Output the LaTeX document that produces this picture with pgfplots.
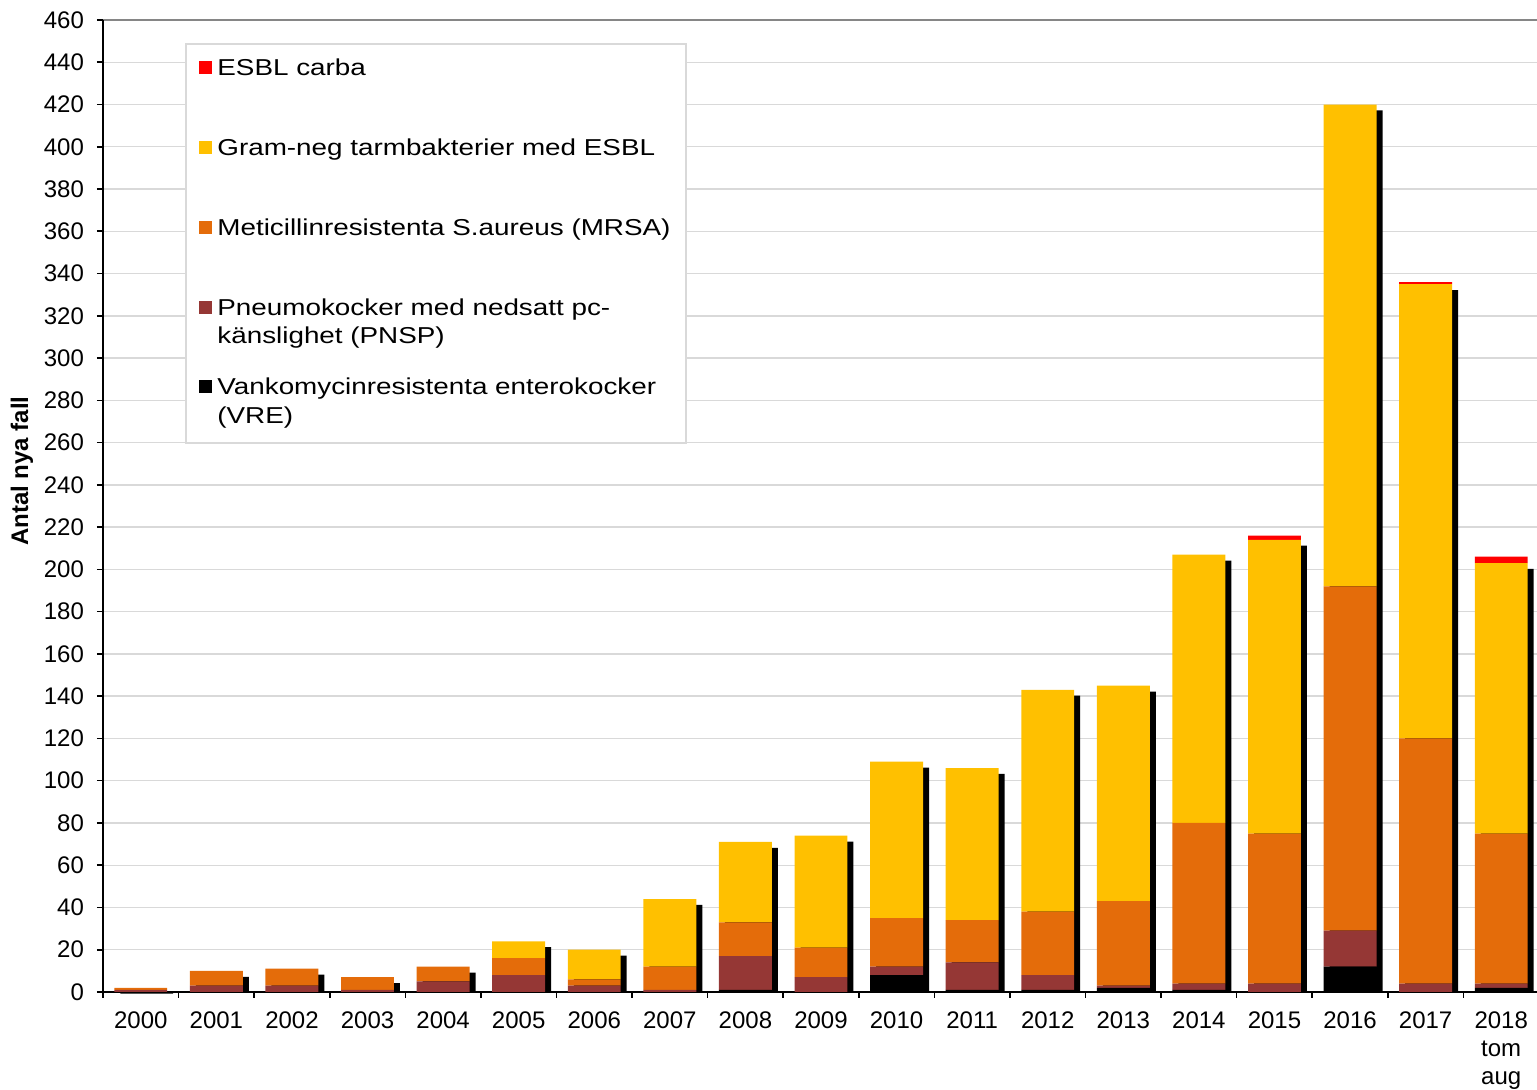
\documentclass[border=0pt]{standalone}
\usepackage{fontspec}
\setmainfont{Liberation Sans}
\usepackage{graphicx}
\usepackage{pgfplots}
\usepackage{pgfplotstable}
\pgfplotsset{compat=1.18}
\definecolor{cPNSP}{HTML}{953735}
\definecolor{cMRSA}{HTML}{E46C0A}
\definecolor{cESBL}{HTML}{FFC000}
\definecolor{cCARB}{HTML}{FF0000}
\definecolor{gridgray}{HTML}{D9D9D9}
\definecolor{topgray}{HTML}{868686}
\definecolor{leggray}{HTML}{D9D9D9}
\newcommand{\ls}[1]{\rule[-#1]{0pt}{#1}}
\newcommand{\sx}[1]{\scalebox{1.21}[1]{#1}}
\newcommand{\twol}[3]{\vtop{\hbox{\sx{#1}}\hbox{\sx{#2}\ls{#3}}}}

\pgfplotstableread{
x v p m e c t
0 0 1 1 0 0 2
1 0 3 7 0 0 10
2 0 3 8 0 0 11
3 0 1 6 0 0 7
4 0 5 7 0 0 12
5 0 8 8 8 0 24
6 0 3 3 14 0 20
7 0 1 11 32 0 44
8 1 16 16 38 0 71
9 0 7 14 53 0 74
10 8 4 23 74 0 109
11 1 13 20 72 0 106
12 1 7 30 105 0 143
13 2 1 40 102 0 145
14 1 3 76 127 0 207
15 0 4 71 139 2 214
16 12 17 163 228 0 420
17 0 4 116 215 1 335
18 2 2 71 128 3 203
}\data

\begin{document}
\begin{tikzpicture}[font=\fontsize{12}{14}\selectfont]
\pgfplotsset{
  base/.style={width=718pt,height=486pt,scale only axis,
    xmin=-0.5,xmax=18.5,ymin=0,ymax=460,
    /pgf/number format/assume math mode=true},
}
% grid layer
\begin{axis}[base, ytick distance=20, xtick=\empty, yticklabels={},
  ymajorgrids, major grid style={draw=gridgray, line width=0.7pt},
  axis line style={draw=none}, major tick length=0pt,
  extra y ticks={460}, extra y tick labels={},
  extra y tick style={major grid style={draw=topgray, line width=1.1pt}}]
\end{axis}
% shadow layer
\begin{axis}[base, ymin=2.8, ymax=462.8, hide axis, clip=false,
  ybar, bar width=0.7, bar shift=3pt]
\addplot[fill=black, draw=none] table[x=x,y=t]{\data};
\end{axis}
% bars
\begin{axis}[base, ybar stacked, bar width=0.7,
  axis x line*=bottom, axis y line*=left,
  axis line style={-, line width=1pt, black},
  tick align=outside, major tick length=3pt,
  tick style={black, line width=0.8pt},
  ytick distance=20,
  y tick label style={font=\fontsize{12}{14}\selectfont, xshift=-3pt},
  xtick={-0.5,0.5,...,18.5},
  x tick label as interval,
  xticklabels={2000,2001,2002,2003,2004,2005,2006,2007,2008,2009,2010,2011,2012,2013,2014,2015,2016,2017,{2018\\tom\\aug}},
  x tick label style={font=\fontsize{12}{14}\selectfont, align=center, yshift=-3.5pt},
  ylabel={\bfseries Antal nya fall},
  every axis y label/.style={at={(axis description cs:-0.0564,0.536)}, rotate=90, anchor=center, font=\fontsize{12}{14}\selectfont},
  reverse legend,
  legend style={at={(0.0571,0.976)}, anchor=north west, draw=leggray, fill=white,
    line width=0.8pt, inner xsep=4pt, inner ysep=3pt, row sep=0pt,
    font=\fontsize{11.5}{14.2}\selectfont,
    nodes={inner sep=1.8pt, text depth=}, cells={anchor=base west}},
  legend image code/.code={\path (0pt,0pt); \fill[#1] (2.5pt,0.8pt) rectangle (9pt,7.3pt); \path (10pt,0pt);},
]
\addplot[fill=black, draw=none] table[x=x,y=v]{\data};
\addlegendentry{\twol{Vankomycinresistenta enterokocker}{(VRE)}{5pt}}
\addplot[fill=cPNSP, draw=none] table[x=x,y=p]{\data};
\addlegendentry{\twol{Pneumokocker med nedsatt pc-}{känslighet (PNSP)}{13.8pt}}
\addplot[fill=cMRSA, draw=none] table[x=x,y=m]{\data};
\addlegendentry{\sx{Meticillinresistenta S.aureus (MRSA)}\hspace{2pt}\ls{28pt}}
\addplot[fill=cESBL, draw=none] table[x=x,y=e]{\data};
\addlegendentry{\sx{Gram-neg tarmbakterier med ESBL}\ls{28pt}}
\addplot[fill=cCARB, draw=none] table[x=x,y=c]{\data};
\addlegendentry{\sx{ESBL carba}\rule{0pt}{10.9pt}\ls{28pt}}
\end{axis}
\pgfresetboundingbox
\path (-51.5pt,-49pt) rectangle (717pt,496pt);
\end{tikzpicture}
\end{document}
